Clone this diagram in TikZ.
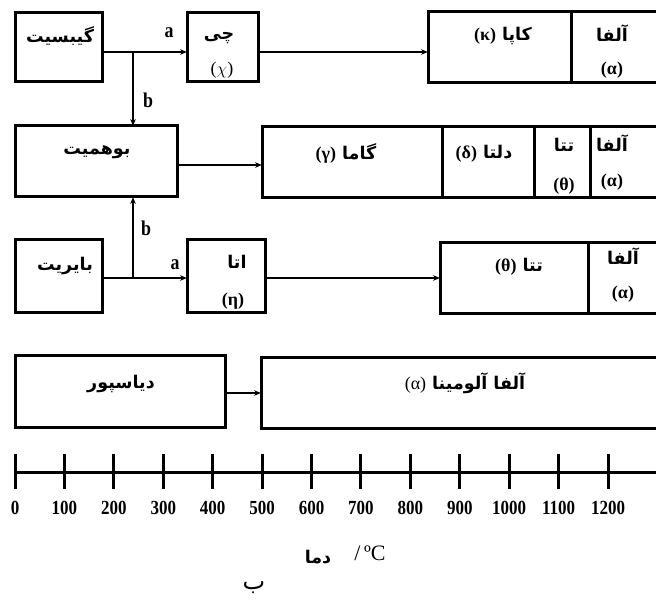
\documentclass[tikz,border=0pt]{standalone}
\usepackage{fontspec}
\usetikzlibrary{arrows.meta}
\TeXXeTstate=1
\setmainfont{Liberation Serif}
\newfontfamily\fa[Script=Arabic]{DejaVu Sans}
\newfontfamily\numf[FakeStretch=0.85]{Liberation Serif}
\newcommand{\fatxt}{\fa\bfseries\fontsize{17.5}{19}\selectfont}
\newcommand{\grktxt}{\bfseries\fontsize{18}{20}\selectfont}
\begin{document}
\begin{tikzpicture}[x=1pt,y=-1pt,
  box/.style={draw, line width=3pt, inner sep=0pt, outer sep=0pt, anchor=north west},
  seg/.style={draw, line width=3pt, inner sep=0pt, outer sep=0pt, anchor=north west},
  fat/.style={font=\fatxt, inner sep=0pt},
  grk/.style={font=\grktxt, inner sep=0pt},
  lbl/.style={font=\numf\bfseries\fontsize{21}{22}\selectfont, inner sep=0pt},
  tnum/.style={font=\numf\bfseries\fontsize{20}{22}\selectfont, inner sep=0pt},
  arr/.style={line width=1.5pt, -{Stealth[length=7pt,width=5.5pt]}},
  tick/.style={line width=3pt}]
\useasboundingbox (0,0) rectangle (656,604);
\clip (0,0) rectangle (656,604);
% arrow heights
\coordinate (h1) at (0,52);
\coordinate (h2) at (0,165);
\coordinate (h3) at (0,278);
\coordinate (h4) at (0,393);
% row 1
\node[box, minimum width=87pt, minimum height=69pt] (gib) at (15,13) {};
\node[box, minimum width=71pt, minimum height=69pt] (chi) at (187,13) {};
\node[seg, minimum width=143pt, minimum height=71pt] (kap) at (428,12) {};
\node[seg, minimum width=87pt, minimum height=71pt] (alf1) at (571,12) {};
\node[fat] (tgib) at (60,36) {\beginR گیبسیت\endR};
\node[fat] (tchi) at (219,38) {\beginR چی\endR};
\node[inner sep=0pt, font=\fontsize{18}{20}\selectfont] (gchi) at (222,70) {($\chi$)};
\node[inner sep=0pt] (tkap) at (503,36) {{\grktxt (κ)}\hspace{6pt}{\fatxt\beginR کاپا\endR}};
\node[fat] (talf1) at (612,33) {\beginR آلفا\endR};
\node[grk] (galf1) at (612,70) {(α)};
% row 2
\node[box, minimum width=162pt, minimum height=71pt] (boe) at (15,126) {};
\node[seg, minimum width=180pt, minimum height=71pt] (gam) at (262,127) {};
\node[seg, minimum width=92pt, minimum height=71pt] (del) at (442,127) {};
\node[seg, minimum width=56pt, minimum height=71pt] (the2) at (534,127) {};
\node[seg, minimum width=68pt, minimum height=71pt] (alf2) at (590,127) {};
\node[fat] (tboe) at (97,152) {\beginR بوهمیت\endR};
\node[inner sep=0pt] (tgam) at (346,153) {{\grktxt (γ)}\hspace{6pt}{\fatxt\beginR گاما\endR}};
\node[inner sep=0pt] (tdel) at (484,154) {{\grktxt (δ)}\hspace{6pt}{\fatxt\beginR دلتا\endR}};
\node[fat] (tthe2) at (564,145) {\beginR تتا\endR};
\node[grk] (gthe2) at (564,186) {(θ)};
\node[fat] (talf2) at (612,143) {\beginR آلفا\endR};
\node[grk] (galf2) at (612,182) {(α)};
% row 3
\node[box, minimum width=87pt, minimum height=72pt] (bay) at (15,240) {};
\node[box, minimum width=78pt, minimum height=72pt] (eta) at (187,240) {};
\node[seg, minimum width=148pt, minimum height=70pt] (the3) at (440,243) {};
\node[seg, minimum width=70pt, minimum height=70pt] (alf3) at (588,243) {};
\node[fat] (tbay) at (65,266) {\beginR بایریت\endR};
\node[fat] (teta) at (237,262) {\beginR اتا\endR};
\node[grk] (geta) at (233,301) {(η)};
\node[inner sep=0pt] (tthe3) at (519,267) {{\grktxt (θ)}\hspace{6pt}{\fatxt\beginR تتا\endR}};
\node[fat] (talf3) at (623,256) {\beginR آلفا\endR};
\node[grk] (galf3) at (623,294) {(α)};
% row 4
\node[box, minimum width=210pt, minimum height=72pt] (dia) at (15,355) {};
\node[box, minimum width=397pt, minimum height=71pt] (alu) at (261,357) {};
\node[fat] (tdia) at (121,384) {\beginR دیاسپور\endR};
\node[inner sep=0pt] (talu) at (465,383) {{\fontsize{18}{20}\selectfont (α)}\hspace{6pt}{\fatxt\beginR آلفا آلومینا\endR}};
% connectors
\coordinate (j1) at (133,52);
\coordinate (j3) at (133,278);
\draw[line width=1.5pt] (gib.east |- h1) -- (j1);
\draw[arr] (j1) -- (chi.west |- h1);
\draw[arr] (j1) -- (j1 |- boe.north);
\draw[arr] (chi.east |- h1) -- (kap.west |- h1);
\draw[arr] (boe.east |- h2) -- (gam.west |- h2);
\draw[line width=1.5pt] (bay.east |- h3) -- (j3);
\draw[arr] (j3) -- (eta.west |- h3);
\draw[arr] (j3) -- (j3 |- boe.south);
\draw[arr] (eta.east |- h3) -- (the3.west |- h3);
\draw[arr] (dia.east |- h4) -- (alu.west |- h4);
\node[lbl] (la1) at (169,33) {a};
\node[lbl] (lb1) at (148,100) {b};
\node[lbl] (lb3) at (146,228) {b};
\node[lbl] (la3) at (175,265) {a};
% axis
\draw[tick] (15,472) -- (662,472);
\foreach \i/\t in {0/0,1/100,2/200,3/300,4/400,5/500,6/600,7/700,8/800,9/900,10/1000,11/1100,12/1200}{
  \draw[tick] (15+49.42*\i,454) -- (15+49.42*\i,489);
  \node[tnum] at (15+49.42*\i,508) {\t};
}
\node[font=\fontsize{22}{24}\selectfont, inner sep=0pt] (unit) at (370,553) {/\,ºC};
\node[fat] (dama) at (318,557) {\beginR دما\endR};
\node[font=\fa\fontsize{24}{26}\selectfont, inner sep=0pt] (be) at (254,588) {\beginR ب\endR};
\end{tikzpicture}
\end{document}
